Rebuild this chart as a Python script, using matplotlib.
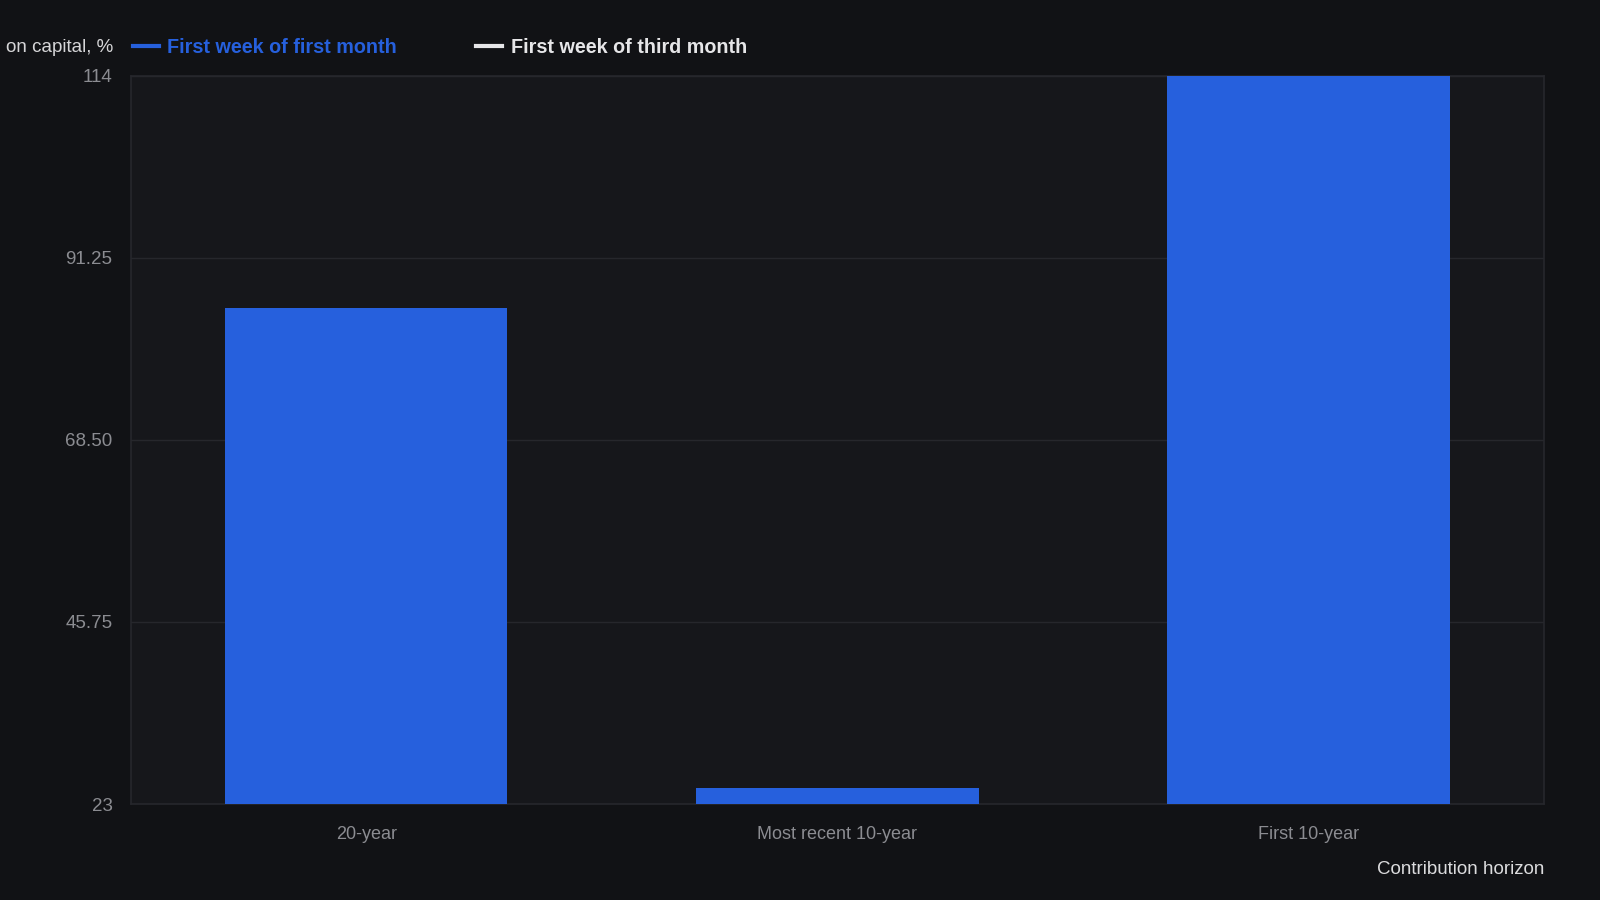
import matplotlib
matplotlib.use("Agg")
import matplotlib.pyplot as plt
from matplotlib.lines import Line2D

# data
categories = ["20-year", "Most recent 10-year", "First 10-year"]
first_month = [84.9, 25.0, 114.0]
series_names = ["First week of first month", "First week of third month"]
yticks = [23, 45.75, 68.50, 91.25, 114]
ytick_labels = ["23", "45.75", "68.50", "91.25", "114"]

BG = "#111215"
AX_BG = "#16171b"
BLUE = "#2660dd"
GRID = "#26272c"
TICK = "#8b8c91"

plt.rcParams["font.family"] = ["Liberation Sans", "DejaVu Sans"]

fig = plt.figure(figsize=(16, 9), dpi=100, facecolor=BG)
ax = fig.add_axes([0.0816, 0.1066, 0.8834, 0.8095])
ax.set_facecolor(AX_BG)

x = range(len(categories))
ax.bar(x, first_month, width=0.6, color=BLUE, zorder=3)

ax.set_xlim(-0.5, len(categories) - 0.5)
ax.set_ylim(yticks[0], yticks[-1])
ax.set_yticks(yticks)
ax.set_yticklabels(ytick_labels)
ax.set_xticks(list(x))
ax.set_xticklabels(categories)
ax.tick_params(axis="both", length=0, colors=TICK, labelsize=13)
ax.tick_params(axis="y", pad=13, labelsize=13.5)
ax.tick_params(axis="x", pad=16)
ax.grid(axis="y", color=GRID, lw=1, zorder=0)
for s in ax.spines.values():
    s.set_color(GRID)
    s.set_linewidth(1.2)

fig.text(0.0035, 0.947, "on capital, %", color="#d6d6d8", fontsize=13.5,
         ha="left", va="center")
ax.text(1.0, -0.09, "Contribution horizon", transform=ax.transAxes,
        ha="right", va="center", color="#dcdcde", fontsize=13.5)

handles = [Line2D([], [], color=BLUE, lw=3),
           Line2D([], [], color="#e6e6e8", lw=3)]
leg = fig.legend(handles, series_names, loc="center left",
                 bbox_to_anchor=(0.072, 0.947), ncol=2, frameon=False,
                 handlelength=1.3, handletextpad=0.45, columnspacing=4.0,
                 prop={"size": 14.2, "weight": "bold"},
                 labelcolor=[BLUE, "#e6e6e8"])

fig.savefig("out.png", dpi=100, facecolor=BG)
